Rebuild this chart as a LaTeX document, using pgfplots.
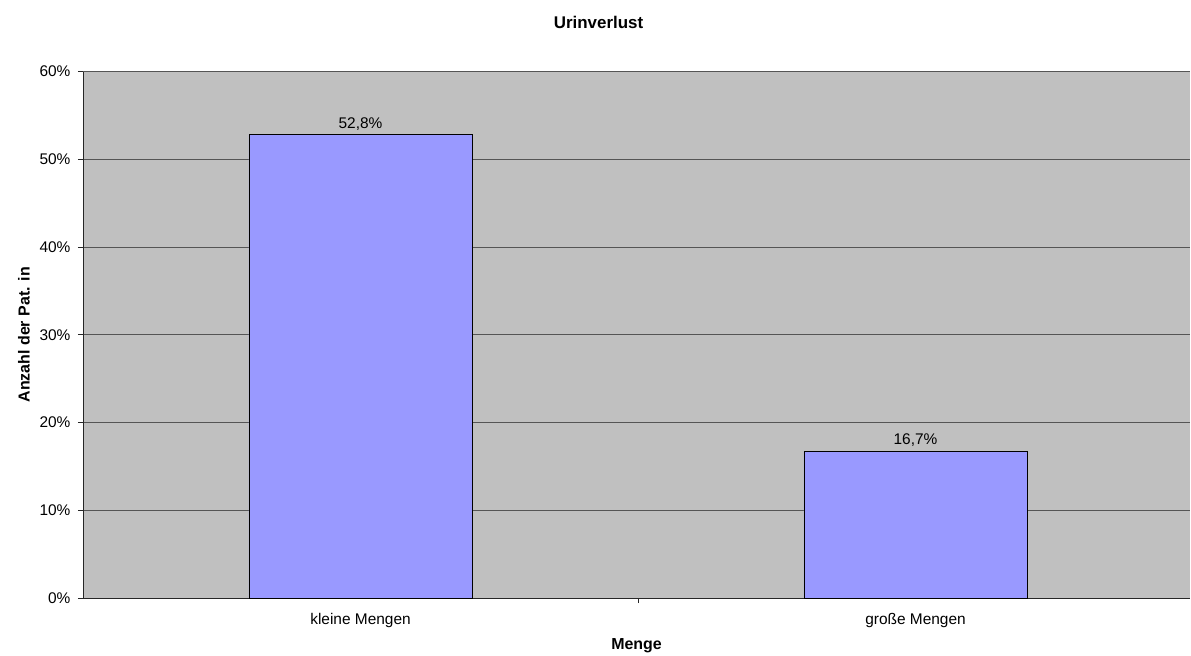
\documentclass[border=0pt]{standalone}
\usepackage{pgfplots}
\pgfplotsset{compat=1.18}
\usepackage{fontspec}
\setmainfont{Liberation Sans}
\definecolor{plotbg}{RGB}{192,192,192}
\definecolor{barfill}{RGB}{153,153,255}
\definecolor{gridgray}{RGB}{85,85,85}
\newcommand{\lblfont}{\fontsize{15.5}{18}\selectfont}
\newcommand{\boldfont}{\fontsize{16}{19}\selectfont\bfseries}
\newcommand{\titlefont}{\fontsize{17}{20}\selectfont\bfseries}
\begin{document}
\begin{tikzpicture}
\path (0,0) rectangle (1191bp,651bp);
\begin{axis}[
  at={(83bp,53bp)}, anchor=south west,
  scale only axis, width=1107bp, height=526.5bp,
  xmin=-0.5, xmax=1.4946, ymin=0, ymax=60,
  axis lines*=left,
  axis line style={black!85, line width=0.9pt},
  axis background/.style={fill=plotbg},
  ytick={0,10,...,60},
  yticklabels={0\%,10\%,20\%,30\%,40\%,50\%,60\%},
  ymajorgrids, grid style={gridgray, line width=0.9pt},
  tick align=outside, major tick length=5bp,
  tick style={black!85, line width=0.9pt},
  xtick={0.5}, xticklabels={},
  extra x ticks={0,1},
  extra x tick labels={kleine Mengen, große Mengen},
  extra x tick style={major tick length=0pt, grid=none},
  tick label style={font=\lblfont},
  xticklabel style={yshift=-12bp},
  yticklabel style={xshift=-4bp},
  ybar, bar width=0.402,
  every axis title shift=0pt,
  title={Urinverlust},
  title style={at={(0.4657,1.093)}, anchor=center, font=\titlefont},
  xlabel={Menge},
  xlabel style={at={(0.5,-0.09)}, anchor=center, font=\boldfont},
  ylabel={Anzahl der Pat. in},
  ylabel style={at={(-0.0533,0.5)}, anchor=center, font=\boldfont},
  /pgf/number format/assume math mode=true,
  nodes near coords={\pgfmathprintnumber[fixed, fixed zerofill, precision=1, use comma, assume math mode=true]{\pgfplotspointmeta}\%},
  nodes near coords style={font=\lblfont, yshift=1bp},
]
\addplot[draw=black, line width=0.6pt, fill=barfill] coordinates {(0,52.8) (1,16.7)};
\end{axis}
\end{tikzpicture}
\end{document}
